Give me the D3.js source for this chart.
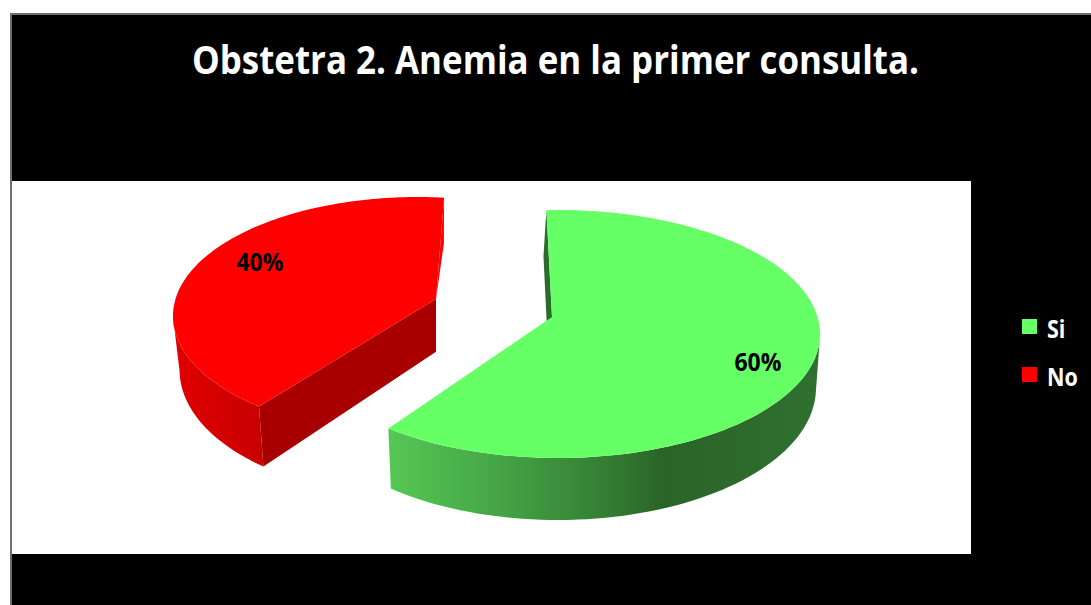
<!DOCTYPE html>
<html>
<head>
<meta charset="utf-8">
<script src="https://cdn.jsdelivr.net/npm/d3@7"></script>
<style>
html,body{margin:0;padding:0;background:#fff;overflow:hidden}
svg{display:block}
text{font-family:"Open Sans","Noto Sans",sans-serif;font-weight:700}
</style>
</head>
<body>
<svg id="chart" width="1091" height="605"></svg>
<script>
const categories = ["Si", "No"];
const shares = [60, 40];
const percentLabels = ["60%", "40%"];
const sliceColors = ["#66ff66", "#ff0000"];
const chartTitle = "Obstetra 2. Anemia en la primer consulta.";

// Each exploded slice sits on its own tilted disc: an on-screen ellipse,
// the apex where the disc centre lands, and a small turn of the view.
const views = [
  {ex: 558, ey: 334, a: 262, b: 124, apexX: 552, apexY: 317, turn: -1.5,
   depth: 54, depthGain: 8, shrink: 0.985, lean: -3,
   radialFill: "#2b6b2b", sideFill: "url(#sideGreen)", closingWall: false},
  {ex: 418, ey: 316, a: 245, b: 119, apexX: 436, apexY: 299, turn: 2.5,
   depth: 54, depthGain: 8, shrink: 0.975, lean: 0,
   radialFill: "#a80000", sideFill: "url(#sideRed)", closingWall: true}
];
const labelAnchors = [{x: 758, y: 362}, {x: 260, y: 262}];
const labelSqueeze = 0.92;
const legendSqueeze = 0.86;

const svg = d3.select("#chart");

// Frame and plot panel
svg.append("rect").attr("x", 10).attr("y", 13).attr("width", 1081).attr("height", 592).attr("fill", "#6e6e6e");
svg.append("rect").attr("x", 12).attr("y", 15).attr("width", 1079).attr("height", 590).attr("fill", "#000");
svg.append("rect").attr("x", 12).attr("y", 181).attr("width", 959).attr("height", 373).attr("fill", "#fff");

svg.append("text").attr("x", 555.5).attr("y", 74).attr("text-anchor", "middle")
  .attr("font-size", 39).attr("fill", "#fff")
  .attr("textLength", 727).attr("lengthAdjust", "spacingAndGlyphs").text(chartTitle);

// Shading of the curved outer walls
const defs = svg.append("defs");
function sideGradient(id, x1, x2, stops) {
  const g = defs.append("linearGradient").attr("id", id)
    .attr("gradientUnits", "userSpaceOnUse").attr("x1", x1).attr("x2", x2).attr("y1", 0).attr("y2", 0);
  stops.forEach(([o, c]) => g.append("stop").attr("offset", o).attr("stop-color", c));
}
sideGradient("sideGreen", 388, 820, [[0, "#55c855"], [0.26, "#45a445"], [0.5, "#357e35"], [0.64, "#2a6428"], [1, "#2f702f"]]);
sideGradient("sideRed", 175, 262, [[0, "#e00000"], [1, "#c80000"]]);

const arcs = d3.pie().sort(null).value(d => d)(shares);

// Point on the disc rim: the pie angle is moved by the disc automorphism
// that sends the disc centre to the apex, then scaled onto the ellipse.
function rimPoint(view, angle, lowered) {
  const kx = (view.apexX - view.ex) / view.a, ky = (view.apexY - view.ey) / view.b;
  const s = 1 + Math.sqrt(1 - kx * kx - ky * ky);
  const px = kx / s, py = ky / s;
  const t = angle - Math.PI / 2 + view.turn * Math.PI / 180;
  const zx = Math.cos(t), zy = Math.sin(t);
  const nx = zx + px, ny = zy + py;
  const dx = 1 + px * zx + py * zy, dy = px * zy - py * zx;
  const m = dx * dx + dy * dy;
  const X = (nx * dx + ny * dy) / m, Y = (ny * dx - nx * dy) / m;
  return place(view, view.ex + view.a * X, view.ey + view.b * Y, Y, lowered);
}
function place(view, x, y, Y, lowered) {
  if (!lowered) return [x, y];
  return [view.apexX + (x - view.apexX) * view.shrink, y + view.depth + view.depthGain * Y];
}
function apexPoint(view, lowered) {
  return place(view, view.apexX, view.apexY, (view.apexY - view.ey) / view.b, lowered);
}

const line = d3.line();
const chart = svg.append("g");

[1, 0].forEach(i => {
  const a = arcs[i], view = views[i];
  const angles = d3.range(0, 121).map(k => a.startAngle + (a.endAngle - a.startAngle) * k / 120);
  const rim = angles.map(t => rimPoint(view, t, false));
  // Only the front half of the rim shows a curved wall
  const frontAngles = angles.filter(t => rimPoint(view, t, false)[1] >= view.ey);
  const front = frontAngles.map(t => rimPoint(view, t, false));
  const frontLow = frontAngles.map(t => rimPoint(view, t, true));
  const wallTop = rimPoint(view, a.startAngle, false);
  const wallLow = rimPoint(view, a.startAngle, true);
  const apexLow = apexPoint(view, true);

  chart.append("path").attr("fill", view.radialFill)
    .attr("d", line([
      apexPoint(view, false), wallTop,
      [wallLow[0] + view.lean, wallLow[1]], [apexLow[0] + view.lean, apexLow[1]]
    ]) + "Z");
  chart.append("path").attr("fill", view.sideFill)
    .attr("d", line(front.concat(frontLow.slice().reverse())) + "Z");
  chart.append("path").attr("fill", sliceColors[i])
    .attr("d", line([apexPoint(view, false)].concat(rim)) + "Z");
  // The far cut of the slice, seen edge-on past the top face
  if (view.closingWall) {
    chart.append("path").attr("fill", sliceColors[i])
      .attr("d", line([
        apexPoint(view, false), rimPoint(view, a.endAngle, false), rimPoint(view, a.endAngle, true)
      ]) + "Z");
  }
});

// Fits a label to a narrower width without changing its height
function squeeze(sel, factor) {
  sel.each(function () {
    d3.select(this).attr("textLength", this.getComputedTextLength() * factor)
      .attr("lengthAdjust", "spacingAndGlyphs");
  });
}

chart.selectAll("text.pct").data(percentLabels).join("text").attr("class", "pct")
  .attr("x", (d, i) => labelAnchors[i].x).attr("y", (d, i) => labelAnchors[i].y)
  .attr("dy", "0.35em").attr("text-anchor", "middle")
  .attr("font-size", 25).attr("fill", "#000").text(d => d).call(squeeze, labelSqueeze);

// Legend
const legendY = d3.scalePoint().domain(categories).range([327, 375]);
const legend = svg.append("g").selectAll("g").data(categories).join("g")
  .attr("transform", d => `translate(1022,${legendY(d)})`);
legend.append("rect").attr("y", -8).attr("width", 15).attr("height", 15)
  .attr("fill", (d, i) => sliceColors[i]);
legend.append("text").attr("x", 25).attr("y", 11).attr("font-size", 25)
  .attr("fill", "#fff").text(d => d).call(squeeze, legendSqueeze);
</script>
</body>
</html>
